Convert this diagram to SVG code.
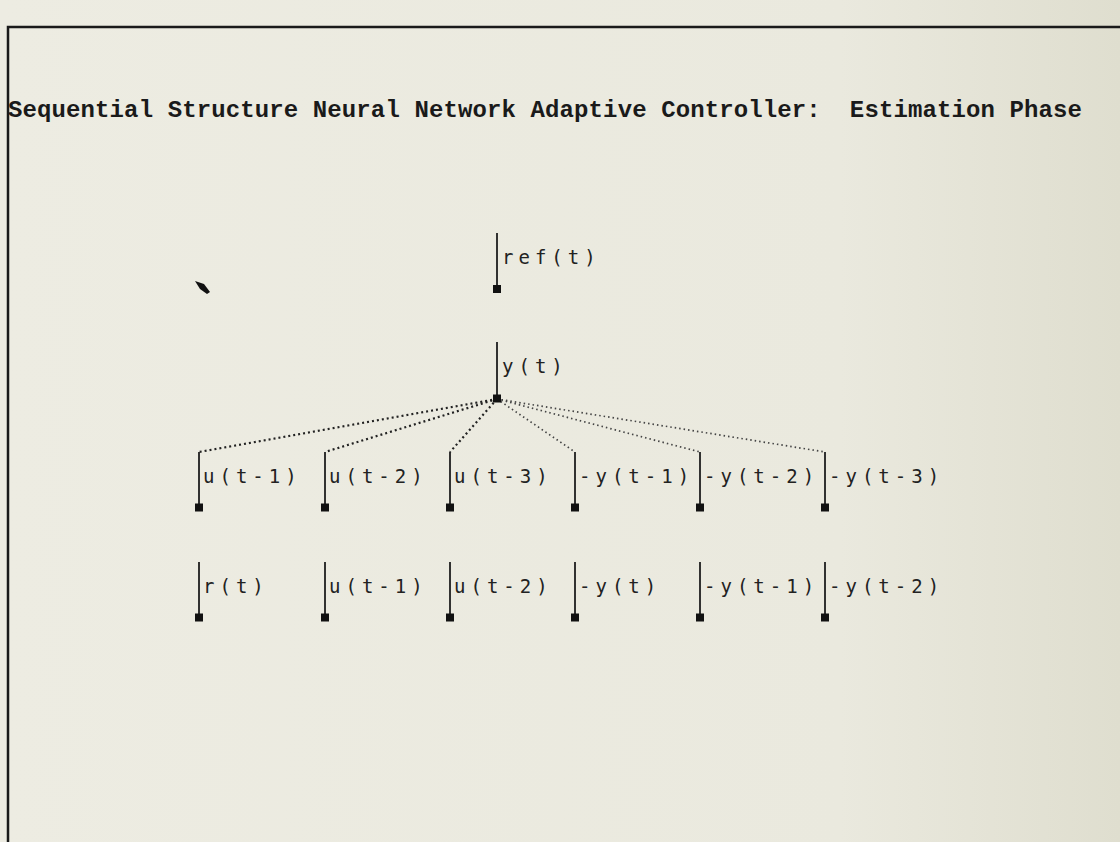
<svg xmlns="http://www.w3.org/2000/svg" width="1120" height="842" viewBox="0 0 1120 842">
<defs>
<linearGradient id="bg" x1="0" y1="0" x2="1" y2="0">
<stop offset="0" stop-color="#edece2"/>
<stop offset="0.75" stop-color="#eae9de"/>
<stop offset="1" stop-color="#dfdecf"/>
</linearGradient>
<style>
.title{font-family:"Liberation Mono","DejaVu Sans Mono",monospace;font-size:24px;font-weight:bold;fill:#1a1a1a}
.lbl{font-family:"DejaVu Sans Mono","Liberation Mono",monospace;font-size:19px;letter-spacing:5px;fill:#222}
.stem{stroke:#1e1e1e;stroke-width:1.8;fill:none}
.sq{fill:#111}
.dot{stroke:#222;stroke-width:2.2;stroke-dasharray:2 3;fill:none}
.dot2{stroke:#444;stroke-width:1.7;stroke-dasharray:1.5 3;fill:none}
.frame{stroke:#1a1a1a;stroke-width:2.5;fill:none}
</style>
</defs>
<rect x="0" y="0" width="1120" height="842" fill="url(#bg)"/>
<path class="frame" d="M1120,27 H8 V842"/>
<text class="title" x="8" y="117" textLength="1074" lengthAdjust="spacing" xml:space="preserve">Sequential Structure Neural Network Adaptive Controller:  Estimation Phase</text>
<polygon points="195,281 204,284 210,292 207,294 200,289" fill="#111"/>
<g id="connectors">
<line class="dot" x1="497" y1="399" x2="199" y2="452"/>
<line class="dot" x1="497" y1="399" x2="325" y2="452"/>
<line class="dot" x1="497" y1="399" x2="450" y2="452"/>
<line class="dot2" x1="497" y1="399" x2="575" y2="452"/>
<line class="dot2" x1="497" y1="399" x2="700" y2="452"/>
<line class="dot2" x1="497" y1="399" x2="825" y2="452"/>
</g>
<g id="n-ref"><line class="stem" x1="497" y1="233" x2="497" y2="289"/><rect class="sq" x="493" y="285" width="8" height="8"/><text class="lbl" x="502" y="264">ref(t)</text></g>
<g id="n-y"><line class="stem" x1="497" y1="342" x2="497" y2="398"/><rect class="sq" x="493" y="394.5" width="8" height="8"/><text class="lbl" x="502" y="373">y(t)</text></g>
<g id="n-u1"><line class="stem" x1="199" y1="452" x2="199" y2="507"/><rect class="sq" x="195" y="503.5" width="8" height="8"/><text class="lbl" x="203" y="483">u(t-1)</text></g>
<g id="n-u2"><line class="stem" x1="325" y1="452" x2="325" y2="507"/><rect class="sq" x="321" y="503.5" width="8" height="8"/><text class="lbl" x="329" y="483">u(t-2)</text></g>
<g id="n-u3"><line class="stem" x1="450" y1="452" x2="450" y2="507"/><rect class="sq" x="446" y="503.5" width="8" height="8"/><text class="lbl" x="454" y="483">u(t-3)</text></g>
<g id="n-y1"><line class="stem" x1="575" y1="452" x2="575" y2="507"/><rect class="sq" x="571" y="503.5" width="8" height="8"/><text class="lbl" x="579" y="483">-y(t-1)</text></g>
<g id="n-y2"><line class="stem" x1="700" y1="452" x2="700" y2="507"/><rect class="sq" x="696" y="503.5" width="8" height="8"/><text class="lbl" x="704" y="483">-y(t-2)</text></g>
<g id="n-y3"><line class="stem" x1="825" y1="452" x2="825" y2="507"/><rect class="sq" x="821" y="503.5" width="8" height="8"/><text class="lbl" x="829" y="483">-y(t-3)</text></g>
<g id="n-r"><line class="stem" x1="199" y1="562" x2="199" y2="617"/><rect class="sq" x="195" y="613.5" width="8" height="8"/><text class="lbl" x="203" y="593">r(t)</text></g>
<g id="n-u1b"><line class="stem" x1="325" y1="562" x2="325" y2="617"/><rect class="sq" x="321" y="613.5" width="8" height="8"/><text class="lbl" x="329" y="593">u(t-1)</text></g>
<g id="n-u2b"><line class="stem" x1="450" y1="562" x2="450" y2="617"/><rect class="sq" x="446" y="613.5" width="8" height="8"/><text class="lbl" x="454" y="593">u(t-2)</text></g>
<g id="n-y0b"><line class="stem" x1="575" y1="562" x2="575" y2="617"/><rect class="sq" x="571" y="613.5" width="8" height="8"/><text class="lbl" x="579" y="593">-y(t)</text></g>
<g id="n-y1b"><line class="stem" x1="700" y1="562" x2="700" y2="617"/><rect class="sq" x="696" y="613.5" width="8" height="8"/><text class="lbl" x="704" y="593">-y(t-1)</text></g>
<g id="n-y2b"><line class="stem" x1="825" y1="562" x2="825" y2="617"/><rect class="sq" x="821" y="613.5" width="8" height="8"/><text class="lbl" x="829" y="593">-y(t-2)</text></g>
</svg>
